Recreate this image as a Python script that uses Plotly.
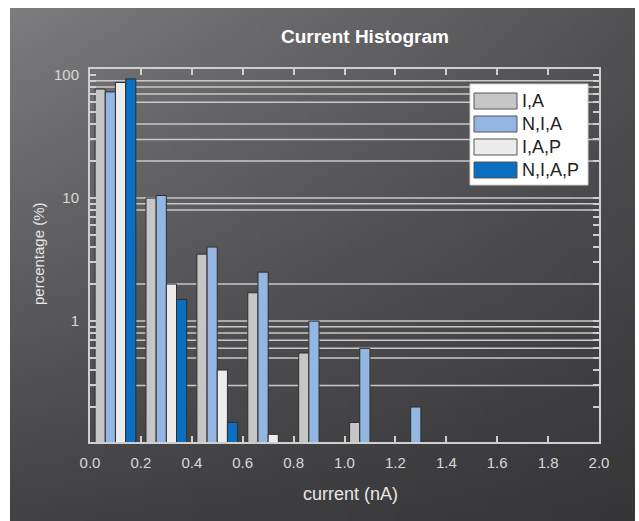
import base64
import math
import struct
import zlib

import plotly.graph_objects as go

# ---- data -------------------------------------------------------------
bin_centers = [0.1, 0.3, 0.5, 0.7, 0.9, 1.1, 1.3]
series_names = ["I,A", "N,I,A", "I,A,P", "N,I,A,P"]
pct_ia = [77, 10, 3.5, 1.7, 0.55, 0.15, None]
pct_nia = [73, 10.5, 4, 2.5, 1.0, 0.6, 0.2]
pct_iap = [87, 2.0, 0.4, 0.12, None, None, None]
pct_niap = [93, 1.5, 0.15, None, None, None, None]
series_values = [pct_ia, pct_nia, pct_iap, pct_niap]
series_colors = ["#c6c6c6", "#93b6e2", "#ececec", "#0b6fc1"]

x_ticks = [0.0, 0.2, 0.4, 0.6, 0.8, 1.0, 1.2, 1.4, 1.6, 1.8, 2.0]
y_major = [1, 10, 100]
grid_values = [90, 80, 70, 60, 40, 30, 20, 10, 9, 8, 2, 1,
               0.9, 0.8, 0.7, 0.6, 0.5, 0.3]

# ---- geometry ---------------------------------------------------------
W, H = 639, 521
ML, MR, MT, MB = 90, 40, 69, 79
PW, PH = W - ML - MR, H - MT - MB
FONT = "Liberation Sans, Arial"


def xp(px):
    return (px - ML) / PW


def yp(py):
    return (H - MB - py) / PH


# ---- background gradient as an inline PNG -----------------------------
def gradient_png(w, h):
    tl, tr, bl, br = 124, 82, 66, 54
    rows = []
    for j in range(h):
        v = j / (h - 1)
        row = bytearray([0])
        for i in range(w):
            u = i / (w - 1)
            c = (tl * (1 - u) * (1 - v) + tr * u * (1 - v)
                 + bl * (1 - u) * v + br * u * v)
            c = int(round(c))
            row += bytes([c, c, min(255, c + 2)])
        rows.append(bytes(row))
    raw = b"".join(rows)

    def chunk(tag, data):
        return (struct.pack(">I", len(data)) + tag + data
                + struct.pack(">I", zlib.crc32(tag + data) & 0xffffffff))

    png = (b"\x89PNG\r\n\x1a\n"
           + chunk(b"IHDR", struct.pack(">IIBBBBB", w, h, 8, 2, 0, 0, 0))
           + chunk(b"IDAT", zlib.compress(raw, 9))
           + chunk(b"IEND", b""))
    return "data:image/png;base64," + base64.b64encode(png).decode()


fig = go.Figure()

for name, vals, col in zip(series_names, series_values, series_colors):
    fig.add_trace(go.Bar(
        x=bin_centers, y=vals, name=name, showlegend=False,
        marker=dict(color=col, line=dict(color="#2e2e2e", width=1)),
    ))

# horizontal grid lines behind the bars
shapes = []
for g in grid_values:
    shapes.append(dict(type="line", xref="paper", x0=0, x1=1,
                       yref="y", y0=g, y1=g,
                       line=dict(color="#c9c9c9", width=1.5),
                       layer="below"))

# legend box, drawn by hand to get the wide swatches
shapes.append(dict(type="rect", xref="paper", yref="paper",
                   x0=xp(470), x1=xp(588), y0=yp(185), y1=yp(84),
                   fillcolor="#ffffff", line=dict(color="#d0d0d0", width=1),
                   layer="above"))
annotations = []
row_tops = [93, 116, 139, 162]
for top, name, col in zip(row_tops, series_names, series_colors):
    shapes.append(dict(type="rect", xref="paper", yref="paper",
                       x0=xp(474), x1=xp(517), y0=yp(top + 16), y1=yp(top),
                       fillcolor=col, line=dict(color="#555555", width=1),
                       layer="above"))
    annotations.append(dict(text=name, xref="paper", yref="paper",
                            x=xp(520), y=yp(top + 8), xanchor="left",
                            yanchor="middle", showarrow=False,
                            font=dict(size=18, color="#222222", family=FONT)))

annotations += [
    dict(text="<b>Current Histogram</b>", xref="paper", yref="paper",
         x=xp(365), y=yp(37), showarrow=False, xanchor="center",
         yanchor="middle",
         font=dict(size=19, color="#ffffff", family=FONT)),
    dict(text="current (nA)", xref="paper", yref="paper",
         x=xp(350), y=yp(494), showarrow=False, xanchor="center",
         yanchor="middle",
         font=dict(size=18, color="#e6e6e6", family=FONT)),
    dict(text="percentage (%)", xref="paper", yref="paper",
         x=xp(38), y=yp(254), showarrow=False, textangle=-90,
         xanchor="center", yanchor="middle",
         font=dict(size=15, color="#e6e6e6", family=FONT)),
]

y_tickvals = []
y_ticktext = []
for d in [0.1, 1, 10, 100]:
    for k in range(1, 10):
        v = round(d * k, 6)
        if 0.104 <= v <= 112:
            y_tickvals.append(v)
            y_ticktext.append(str(int(v)) if v in y_major else "")

fig.update_layout(
    width=W, height=H,
    margin=dict(l=ML, r=MR, t=MT, b=MB, pad=0),
    paper_bgcolor="#ffffff",
    plot_bgcolor="rgba(0,0,0,0)",
    barmode="group", bargap=0.2, bargroupgap=0,
    font=dict(family=FONT, color="#d8d8d8"),
    shapes=shapes, annotations=annotations,
    images=[dict(source=gradient_png(64, 52), xref="paper", yref="paper",
                 x=xp(10), y=yp(8), sizex=xp(635) - xp(10),
                 sizey=yp(8) - yp(521), xanchor="left", yanchor="top",
                 sizing="stretch", layer="below")],
    xaxis=dict(range=[0, 2], tickvals=x_ticks,
               ticktext=[f"{t:.1f}" for t in x_ticks],
               ticks="inside", ticklen=6, tickwidth=1.5, tickcolor="#cfcfcf",
               showline=True, linecolor="#cfcfcf", linewidth=2,
               mirror="ticks", showgrid=False, zeroline=False,
               ticklabelstandoff=6,
               tickfont=dict(size=15, color="#d8d8d8")),
    yaxis=dict(type="log", range=[math.log10(0.104), math.log10(112)],
               tickvals=y_tickvals, ticktext=y_ticktext,
               ticks="inside", ticklen=6, tickwidth=1.5, tickcolor="#cfcfcf",
               showline=True, linecolor="#cfcfcf", linewidth=2,
               mirror="ticks", showgrid=False, zeroline=False,
               ticklabelstandoff=6,
               tickfont=dict(size=15, color="#d8d8d8")),
)

fig.write_html("out.html")
